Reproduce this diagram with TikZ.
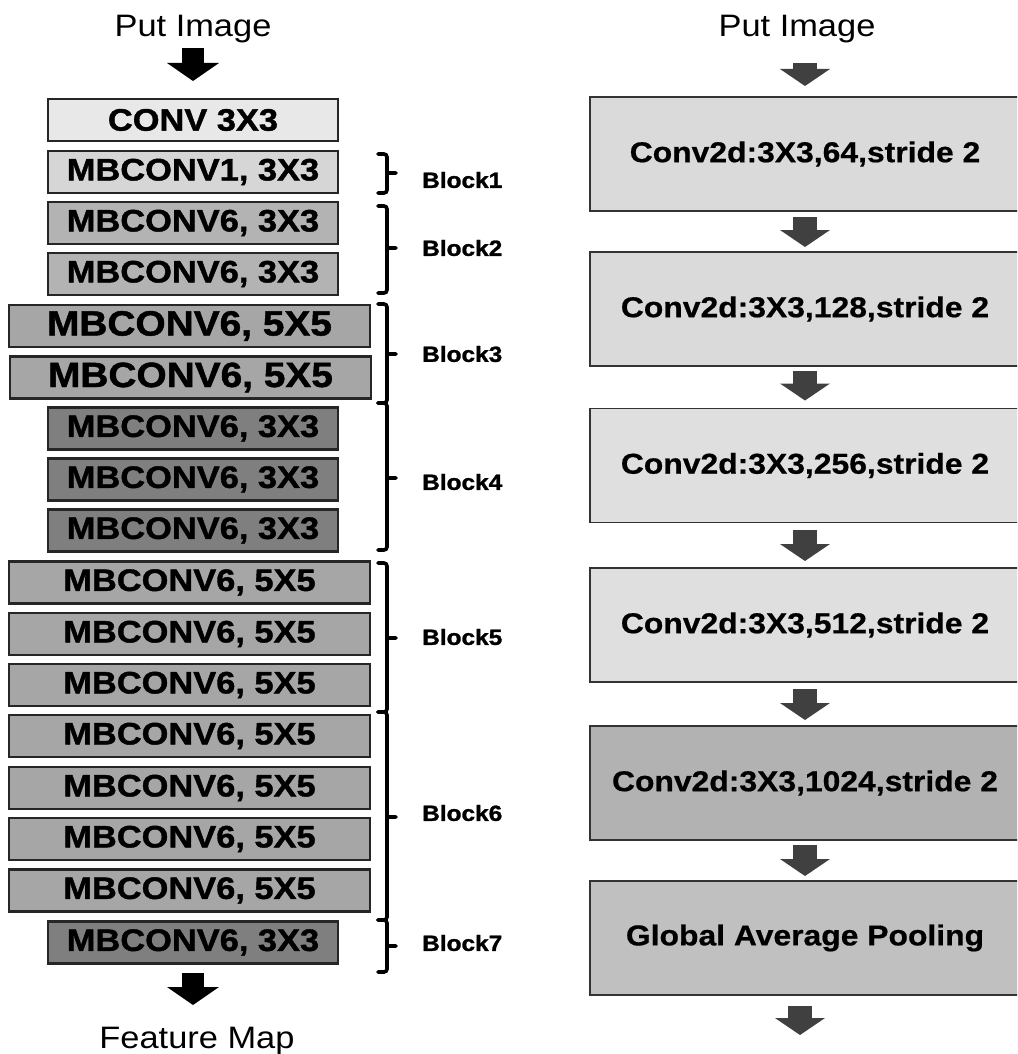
\documentclass[tikz,border=0pt]{standalone}
\usepackage{fontspec}
\setmainfont{Liberation Sans}
\newfontfamily\arialx{Liberation Sans}[FakeStretch=1.11]
\newfontfamily\arialbb{Liberation Sans}[FakeStretch=1.11, BoldFeatures={FakeBold=1.3}]
\newfontfamily\arialbr{Liberation Sans}[FakeStretch=1.11, BoldFeatures={FakeBold=0.6}]
\usetikzlibrary{arrows.meta}
\definecolor{lcA}{HTML}{E8E8E8}
\definecolor{lcB}{HTML}{D6D6D6}
\definecolor{lcC}{HTML}{B3B3B3}
\definecolor{lcD}{HTML}{A6A6A6}
\definecolor{lcE}{HTML}{7F7F7F}
\definecolor{rcA}{HTML}{DADADA}
\definecolor{rcB}{HTML}{DFDFDF}
\definecolor{rcC}{HTML}{B2B2B2}
\definecolor{rcD}{HTML}{C0C0C0}
\definecolor{arrowgray}{HTML}{404040}
\definecolor{edgegray}{HTML}{262626}
\begin{document}
\begin{tikzpicture}[x=1pt,y=-1pt,
  lbox/.style={draw=edgegray, line width=2.2pt, inner sep=0pt, outer sep=0pt, minimum height=42pt, text=black,
    font=\arialbb\bfseries\fontsize{31}{31}\selectfont},
  narrowb/.style={lbox, minimum width=290pt},
  wideb/.style={lbox, minimum width=361pt},
  rbox/.style={draw=black!80, line width=1.8pt, inner sep=0pt, outer sep=0pt, minimum width=430pt, minimum height=114pt,
    font=\arialbr\bfseries\fontsize{28.7}{30}\selectfont},
  titletext/.style={font=\arialx\fontsize{31}{31}\selectfont, anchor=base, inner sep=0pt, outer sep=0pt},
  blabel/.style={font=\arialbb\bfseries\fontsize{22}{22}\selectfont, anchor=west, inner sep=0pt},
  larrow/.style={line width=22pt, draw=black, -{Triangle[width=52pt,length=18pt,line width=0pt]}},
  rarrow/.style={line width=24pt, draw=arrowgray, -{Triangle[width=50pt,length=17pt,line width=0pt]}},
  bracket/.style={line width=3.6pt, rounded corners=3pt, line cap=round}
]
\useasboundingbox (0,0) rectangle (1017,1054);
\clip (0,0) rectangle (1017,1054);

% ---------- left column ----------
\node[titletext] (put1) at (193,37) {Put Image};
\node[narrowb, fill=lcA] (c0) at (193,120) {CONV 3X3};
\node[narrowb, fill=lcB] (m1) at (193,172) {MBCONV1, 3X3};
\node[narrowb, fill=lcC] (b2a) at (193,223) {MBCONV6, 3X3};
\node[narrowb, fill=lcC] (b2b) at (193,274) {MBCONV6, 3X3};
\node[wideb, fill=lcD, font=\arialbb\bfseries\fontsize{35}{35}\selectfont] (b3a) at (189.5,326) {MBCONV6, 5X5};
\node[wideb, fill=lcD, font=\arialbb\bfseries\fontsize{35}{35}\selectfont] (b3b) at (190.5,377.5) {MBCONV6, 5X5};
\node[narrowb, fill=lcE] (b4a) at (193,428.5) {MBCONV6, 3X3};
\node[narrowb, fill=lcE] (b4b) at (193,479.5) {MBCONV6, 3X3};
\node[narrowb, fill=lcE] (b4c) at (193,530.5) {MBCONV6, 3X3};
\node[wideb, fill=lcD] (b5a) at (189.5,582.5) {MBCONV6, 5X5};
\node[wideb, fill=lcD] (b5b) at (189.5,634) {MBCONV6, 5X5};
\node[wideb, fill=lcD] (b5c) at (189.5,685) {MBCONV6, 5X5};
\node[wideb, fill=lcD] (b6a) at (189.5,736) {MBCONV6, 5X5};
\node[wideb, fill=lcD] (b6b) at (189.5,788) {MBCONV6, 5X5};
\node[wideb, fill=lcD] (b6c) at (189.5,839) {MBCONV6, 5X5};
\node[wideb, fill=lcD] (b6d) at (189.5,890.5) {MBCONV6, 5X5};
\node[narrowb, fill=lcE] (b7) at (193,942.5) {MBCONV6, 3X3};
\node[titletext] (fmap) at (197,1048) {Feature Map};

\draw[larrow] ([yshift=-11pt]put1.base) -- ([yshift=18pt]c0.north);
\draw[larrow] ([yshift=-9pt]b7.south) -- ([yshift=43pt]fmap.base -| b7.south);

% brackets
\foreach \t/\b/\m in {154/193/173, 206/293/248, 304/403/354, 403/550/478, 563/712/638, 712/920/817, 920/972/946}
  \draw[bracket] (378,\t) -- (387,\t) -- (387,\b) -- (378,\b) (387,\m) -- (396,\m);

\node[blabel] (l1) at (422,180) {Block1};
\node[blabel] (l2) at (422,248) {Block2};
\node[blabel] (l3) at (422,354) {Block3};
\node[blabel] (l4) at (422,482) {Block4};
\node[blabel] (l5) at (422,637) {Block5};
\node[blabel] (l6) at (422,813) {Block6};
\node[blabel] (l7) at (422,943) {Block7};

% ---------- right column ----------
\node[titletext] (put2) at (797,37) {Put Image};
\node[rbox, fill=rcA] (r1) at (805,154) {Conv2d:3X3,64,stride 2};
\node[rbox, fill=rcA] (r2) at (805,309) {Conv2d:3X3,128,stride 2};
\node[rbox, fill=rcB] (r3) at (805,465.5) {Conv2d:3X3,256,stride 2};
\node[rbox, fill=rcB] (r4) at (805,625) {Conv2d:3X3,512,stride 2};
\node[rbox, fill=rcC] (r5) at (805,783) {Conv2d:3X3,1024,stride 2};
\node[rbox, fill=rcD] (r6) at (805,938) {Global Average Pooling};
\coordinate (rend) at (800,1035);

\draw[rarrow] ([yshift=-26pt]put2.base -| r1.north) -- ([yshift=11pt]r1.north);
\draw[rarrow, shorten <=6pt, shorten >=5pt] (r1.south) -- (r2.north);
\draw[rarrow, shorten <=5pt, shorten >=8pt] (r2.south) -- (r3.north);
\draw[rarrow, shorten <=7pt, shorten >=7pt] (r3.south) -- (r4.north);
\draw[rarrow, shorten <=7pt, shorten >=6pt] (r4.south) -- (r5.north);
\draw[rarrow, shorten <=5pt, shorten >=5pt] (r5.south) -- (r6.north);
\draw[rarrow] ([yshift=-11pt]r6.south -| rend) -- (rend);
\end{tikzpicture}
\end{document}
